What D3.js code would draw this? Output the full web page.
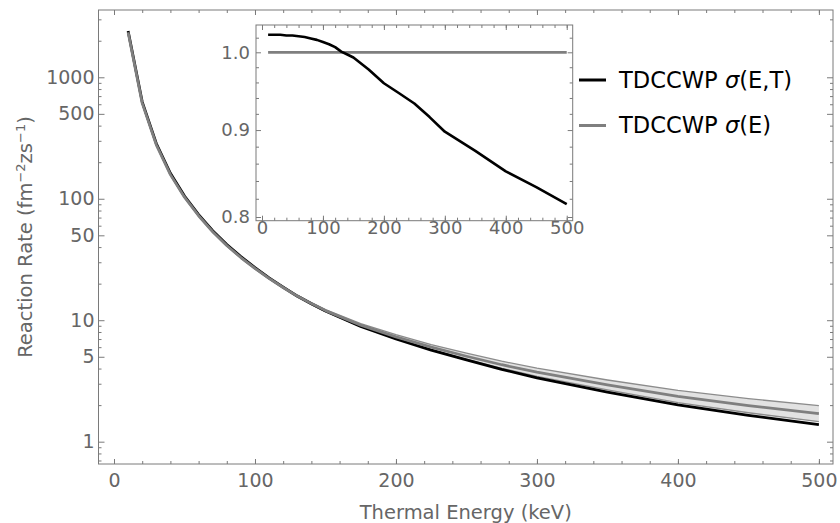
<html>
<head>
<meta charset="utf-8">
<title>Reaction Rate vs Thermal Energy</title>
<style>
body{margin:0;padding:0;background:white;}
svg{display:block;}
text{font-family:'DejaVu Sans', sans-serif;}
.axis path{display:none;}
.axis line{stroke:#7a7a7a;stroke-width:1;}
.axis text{fill:#666;}
</style>
</head>
<body>
<svg id="chart" width="840" height="523"></svg>
<script src="https://d3js.org/d3.v7.min.js"></script>
<script>
// thermal energy grid (keV)
var energy = [10,20,30,40,50,60,70,80,90,100,110,120,130,140,150,175,200,225,250,275,300,350,400,450,500];
// TDCCWP sigma(E)
var rateE = [2350,613,278,158,103,72.5,53.5,41.2,32.8,26.7,22.1,18.6,15.8,13.7,12.0,9.1,7.3,6.0,5.05,4.3,3.73,2.93,2.36,1.98,1.70];
// TDCCWP sigma(E,T)
var rateET = [2406,628,285,162,105.4,74.1,54.6,42.0,33.4,27.1,22.3,18.7,15.8,13.66,11.92,8.89,7.0,5.68,4.71,3.94,3.35,2.56,2.01,1.65,1.38];
// shaded band around sigma(E)
var bandUpper = [2380,620,281,160,104.3,73.4,54.2,41.8,33.3,27.1,22.4,18.9,16.1,13.95,12.25,9.37,7.6,6.3,5.35,4.6,4.03,3.22,2.64,2.26,1.98];
var bandLower = [2320,606,275,156,101.7,71.6,52.8,40.6,32.3,26.3,21.8,18.3,15.5,13.45,11.75,8.84,7.02,5.72,4.76,4.02,3.45,2.67,2.10,1.73,1.46];
// inset: sigma(E,T)/sigma(E)
var ratio = [1.024,1.024,1.024,1.023,1.023,1.022,1.021,1.019,1.017,1.014,1.011,1.007,1.001,0.997,0.993,0.977,0.959,0.946,0.933,0.916,0.898,0.875,0.851,0.833,0.814];

var xTicks = [0,100,200,300,400,500];
var xMinor = d3.range(0, 510, 20);
var yTicks = [1,5,10,50,100,500,1000];
var yMinor = [0.7,0.8,0.9,2,3,4,6,7,8,9,20,30,40,60,70,80,90,200,300,400,600,700,800,900,2000,3000];
var insetYTicks = [0.8,0.9,1.0];
var insetYMinor = [0.82,0.84,0.86,0.88,0.92,0.94,0.96,0.98,1.02];

var svg = d3.select("#chart");

// main frame
var L = 98.5, R = 833, T = 10, B = 464;
var x = d3.scaleLinear().domain([-11, 510]).range([L, R]);
var y = d3.scaleLog().domain([0.655, 3581]).range([B, T]);

function addAxis(axis, tx, ty) {
    return svg.append("g").attr("class", "axis")
        .attr("transform", "translate(" + tx + "," + ty + ")")
        .call(axis);
}

addAxis(d3.axisBottom(x).tickValues(xMinor).tickSize(-3).tickFormat(""), 0, B);
addAxis(d3.axisTop(x).tickValues(xMinor).tickSize(-3).tickFormat(""), 0, T);
addAxis(d3.axisTop(x).tickValues(xTicks).tickSize(-5).tickFormat(""), 0, T);
addAxis(d3.axisBottom(x).tickValues(xTicks).tickSize(-5).tickPadding(10).tickFormat(d3.format("d")), 0, B)
    .selectAll("text").style("font-size", "19px");

addAxis(d3.axisLeft(y).tickValues(yMinor).tickSize(-3).tickFormat(""), L, 0);
addAxis(d3.axisRight(y).tickValues(yMinor).tickSize(-3).tickFormat(""), R, 0);
addAxis(d3.axisRight(y).tickValues(yTicks).tickSize(-6).tickFormat(""), R, 0);
addAxis(d3.axisLeft(y).tickValues(yTicks).tickSize(-6).tickPadding(4).tickFormat(d3.format("d")), L, 0)
    .selectAll("text").style("font-size", "19px");

svg.append("rect").attr("x", L).attr("y", T).attr("width", R - L).attr("height", B - T)
    .attr("fill", "none").attr("stroke", "#7a7a7a").attr("stroke-width", 1);

// axis labels
svg.append("text").attr("x", (L + R) / 2).attr("y", 519)
    .attr("text-anchor", "middle").attr("fill", "#666").style("font-size", "19.5px")
    .text("Thermal Energy (keV)");

var yl = svg.append("text")
    .attr("transform", "translate(32," + (T + B) / 2 + ") rotate(-90)")
    .attr("text-anchor", "middle").attr("fill", "#666").style("font-size", "19.5px");
yl.append("tspan").text("Reaction Rate (fm");
yl.append("tspan").attr("dy", -7).style("font-size", "13px").text("\u22122");
yl.append("tspan").attr("dy", 7).text("zs");
yl.append("tspan").attr("dy", -7).style("font-size", "13px").text("\u22121");
yl.append("tspan").attr("dy", 7).text(")");

// data
var rows = energy.map(function(e, i) {
    return {e: e, s: rateE[i], st: rateET[i], hi: bandUpper[i], lo: bandLower[i], r: ratio[i]};
});

svg.append("path").datum(rows)
    .attr("d", d3.area().x(function(d) { return x(d.e); })
        .y0(function(d) { return y(d.lo); }).y1(function(d) { return y(d.hi); }))
    .attr("fill", "#e2e2e2");

function line(key, color, width) {
    svg.append("path").datum(rows)
        .attr("d", d3.line().x(function(d) { return x(d.e); }).y(function(d) { return y(d[key]); }))
        .attr("fill", "none").attr("stroke", color).attr("stroke-width", width)
        .attr("stroke-linejoin", "round");
}
line("hi", "#8c8c8c", 1.3);
line("lo", "#8c8c8c", 1.3);
line("st", "#000", 2.8);
line("s", "#7f7f7f", 2.8);

// inset
var iL = 256, iR = 572.7, iT = 25, iB = 220.7;
var ix = d3.scaleLinear().domain([-9.85, 509.8]).range([iL, iR]);
var iy = d3.scaleLog().domain([0.796, 1.0377]).range([iB, iT]);

svg.append("rect").attr("x", iL).attr("y", iT).attr("width", iR - iL).attr("height", iB - iT)
    .attr("fill", "white");

addAxis(d3.axisBottom(ix).tickValues(xMinor).tickSize(-3).tickFormat(""), 0, iB);
addAxis(d3.axisTop(ix).tickValues(xMinor).tickSize(-3).tickFormat(""), 0, iT);
addAxis(d3.axisTop(ix).tickValues(xTicks).tickSize(-5).tickFormat(""), 0, iT);
addAxis(d3.axisBottom(ix).tickValues(xTicks).tickSize(-5).tickPadding(1).tickFormat(d3.format("d")), 0, iB)
    .selectAll("text").style("font-size", "18px");

addAxis(d3.axisLeft(iy).tickValues(insetYMinor).tickSize(-3).tickFormat(""), iL, 0);
addAxis(d3.axisRight(iy).tickValues(insetYMinor).tickSize(-3).tickFormat(""), iR, 0);
addAxis(d3.axisRight(iy).tickValues(insetYTicks).tickSize(-5).tickFormat(""), iR, 0);
addAxis(d3.axisLeft(iy).tickValues(insetYTicks).tickSize(-5).tickPadding(6).tickFormat(d3.format(".1f")), iL, 0)
    .selectAll("text").style("font-size", "18px");

svg.append("rect").attr("x", iL).attr("y", iT).attr("width", iR - iL).attr("height", iB - iT)
    .attr("fill", "none").attr("stroke", "#7a7a7a").attr("stroke-width", 1);

svg.append("path").datum(rows)
    .attr("d", d3.line().x(function(d) { return ix(d.e); }).y(function() { return iy(1); }))
    .attr("fill", "none").attr("stroke", "#7f7f7f").attr("stroke-width", 2.8);
svg.append("path").datum(rows)
    .attr("d", d3.line().x(function(d) { return ix(d.e); }).y(function(d) { return iy(d.r); }))
    .attr("fill", "none").attr("stroke", "#000").attr("stroke-width", 2.6)
    .attr("stroke-linejoin", "round");

// legend
var legend = [
    {label: "(E,T)", color: "#000", y: 80},
    {label: "(E)", color: "#7f7f7f", y: 125.5}
];
legend.forEach(function(d) {
    svg.append("line").attr("x1", 579).attr("x2", 606).attr("y1", d.y).attr("y2", d.y)
        .attr("stroke", d.color).attr("stroke-width", 3);
    var t = svg.append("text").attr("x", 619).attr("y", d.y + 7.8)
        .attr("fill", "#000").style("font-size", "22.6px");
    t.append("tspan").text("TDCCWP ");
    t.append("tspan").style("font-style", "italic").text("\u03c3");
    t.append("tspan").text(d.label);
});
</script>
</body>
</html>
